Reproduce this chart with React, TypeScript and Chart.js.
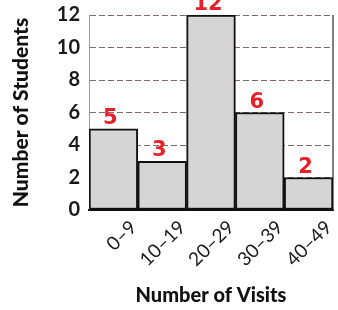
import React, { useEffect, useRef } from "react";
import { Chart, registerables } from "chart.js";

Chart.register(...registerables);

const categories = ["0–9", "10–19", "20–29", "30–39", "40–49"];
const students = [5, 3, 12, 6, 2];
const handLabels = ["5", "3", "12", "6", "2"];
const yTicks = [0, 2, 4, 6, 8, 10, 12];

const annotate = {
  id: "annotate",
  beforeDatasetsDraw(chart: any) {
    const { ctx, chartArea } = chart;
    ctx.save();
    ctx.strokeStyle = "#555";
    ctx.lineWidth = 1.5;
    ctx.beginPath();
    ctx.moveTo(chartArea.right, chartArea.top);
    ctx.lineTo(chartArea.right, chartArea.bottom);
    ctx.stroke();
    ctx.restore();
  },
  afterDatasetsDraw(chart: any) {
    const { ctx } = chart;
    const meta = chart.getDatasetMeta(0);
    ctx.save();
    ctx.fillStyle = "#e8202a";
    ctx.font = "bold 21px 'DejaVu Sans'";
    ctx.textAlign = "center";
    ctx.textBaseline = "alphabetic";
    meta.data.forEach((bar: any, i: number) => {
      ctx.fillText(handLabels[i], bar.x - 3, bar.y - 5);
    });
    ctx.restore();
  },
};

export default function App() {
  const ref = useRef<HTMLCanvasElement | null>(null);
  useEffect(() => {
    if (!ref.current) return;
    const chart = new Chart(ref.current, {
      type: "bar",
      data: {
        labels: categories,
        datasets: [
          {
            data: students,
            backgroundColor: "#d5d5d5",
            borderColor: "#111",
            borderWidth: 2,
            borderSkipped: false,
            barPercentage: 1,
            categoryPercentage: 1,
          },
        ],
      },
      options: {
        responsive: false,
        animation: false,
        layout: { padding: { top: 15, right: 5, left: 0, bottom: 0 } },
        plugins: { legend: { display: false }, tooltip: { enabled: false } },
        scales: {
          x: {
            grid: { display: false, drawTicks: false },
            border: { display: true, color: "#111", width: 2 },
            ticks: {
              color: "#1a1a1a",
              font: { family: "Lato", size: 19, weight: "normal" },
              minRotation: 45,
              maxRotation: 45,
              padding: 6,
              labelOffset: 20,
            },
            title: {
              display: true,
              text: "Number of Visits",
              color: "#111",
              font: { family: "Lato", size: 20, weight: "900" },
              padding: { top: 0, bottom: 2 },
            },
            afterFit(scale: any) {
              scale.height = 100;
              scale.paddingLeft = 0;
              scale.paddingRight = 0;
            },
          },
          y: {
            min: 0,
            max: 12,
            afterBuildTicks(scale: any) {
              scale.ticks = yTicks.map((v) => ({ value: v }));
            },
            grid: {
              color: "rgba(100,70,70,0.8)",
              lineWidth: 1,
              drawTicks: false,
            },
            border: { display: true, color: "rgba(110,80,80,0.6)", dash: [6, 3], width: 1 },
            ticks: {
              color: "#1a1a1a",
              font: { family: "Lato", size: 20, weight: "bold" },
              padding: 9,
            },
            title: {
              display: true,
              text: "Number of Students",
              color: "#111",
              font: { family: "Lato", size: 21, weight: "900" },
              padding: { top: 9, bottom: 0 },
            },
            afterFit(scale: any) {
              scale.width = 89;
              scale.paddingTop = 0;
              scale.paddingBottom = 0;
            },
          },
        },
      },
      plugins: [annotate],
    });
    return () => chart.destroy();
  }, []);
  return (
    <div style={{ position: "absolute", left: 0, top: 0, width: 338, height: 310, background: "#fff" }}>
      <canvas ref={ref} width={338} height={310} style={{ width: 338, height: 310 }} />
    </div>
  );
}
